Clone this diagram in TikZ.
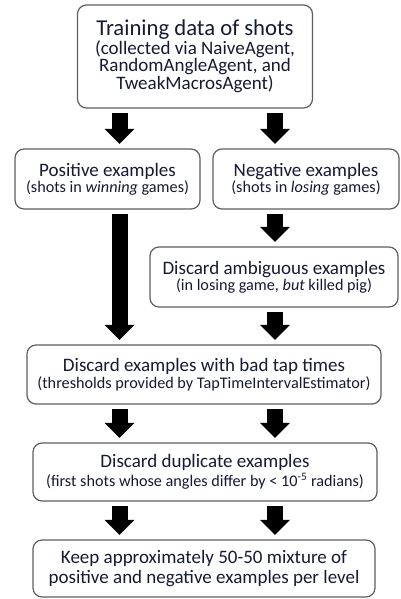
\documentclass[tikz,border=0pt]{standalone}
\usepackage{fontspec}
\setmainfont{Carlito}
\usetikzlibrary{arrows.meta}
\definecolor{boxtext}{RGB}{22,26,52}
\definecolor{boxline}{RGB}{95,95,95}
\newcommand{\titlesize}{\fontsize{22.7}{24}\selectfont}
\newcommand{\notesize}{\fontsize{19}{22.5}\selectfont}
\newcommand{\mainsize}{\fontsize{19}{22}\selectfont}
\newcommand{\subsize}{\fontsize{16.2}{19.5}\selectfont}

\begin{document}
\begin{tikzpicture}[x=1pt,y=-1pt,
		stepbox/.style={draw=boxline,line width=1.2pt,rounded corners=9pt,fill=white,
			text=boxtext,align=center,inner sep=0pt},
		bigarrow/.style={line width=16pt,
			-{Triangle[length=15pt,width=30pt,line width=0pt]},
			shorten <=4.5pt,shorten >=4.5pt}]
	\useasboundingbox (0,0) rectangle (400,599);
	% columns of the block arrows
	\coordinate (lc) at (119.5,0);
	\coordinate (rc) at (275,0);
	% boxes
	\node[stepbox,minimum width=235pt,minimum height=103pt] (train) at (195,56.5)
		{\titlesize Training data of shots\\\notesize (collected via NaiveAgent,\\\notesize RandomAngleAgent, and\\\notesize TweakMacrosAgent)};
	\node[stepbox,minimum width=185pt,minimum height=60pt] (pos) at (107.5,179)
		{\mainsize Positive examples\\\subsize (shots in \textit{winning} games)};
	\node[stepbox,minimum width=186pt,minimum height=60pt] (neg) at (306,179)
		{\mainsize Negative examples\\\subsize (shots in \textit{losing} games)};
	\node[stepbox,minimum width=248pt,minimum height=60pt] (amb) at (274,277)
		{\mainsize Discard ambiguous examples\\\subsize (in losing game, \textit{but} killed pig)};
	\node[stepbox,minimum width=354pt,minimum height=59pt] (tap) at (204,374.5)
		{\mainsize Discard examples with bad tap times\\[0.5pt]\subsize (thresholds provided by TapTimeIntervalEstimator)};
	\node[stepbox,minimum width=344pt,minimum height=58pt] (dup) at (205,472)
		{\mainsize Discard duplicate examples\\[1.5pt]\subsize (first shots whose angles differ by < 10\textsuperscript{-5} radians)};
	\node[stepbox,minimum width=342pt,minimum height=57pt] (keep) at (204,568.5)
		{\mainsize Keep approximately 50-50 mixture of\\[2pt]\mainsize positive and negative examples per level};
	% arrows
	\draw[bigarrow] (train.south -| lc) -- (pos.north -| lc);
	\draw[bigarrow] (train.south -| rc) -- (neg.north -| rc);
	\draw[bigarrow] (pos.south -| lc) -- (tap.north -| lc);
	\draw[bigarrow] (neg.south -| rc) -- (amb.north -| rc);
	\draw[bigarrow] (amb.south -| rc) -- (tap.north -| rc);
	\foreach \a/\b in {tap/dup,dup/keep} {
		\foreach \c in {lc,rc} {
			\draw[bigarrow] (\a.south -| \c) -- (\b.north -| \c);
		}
	};
\end{tikzpicture}
\end{document}
